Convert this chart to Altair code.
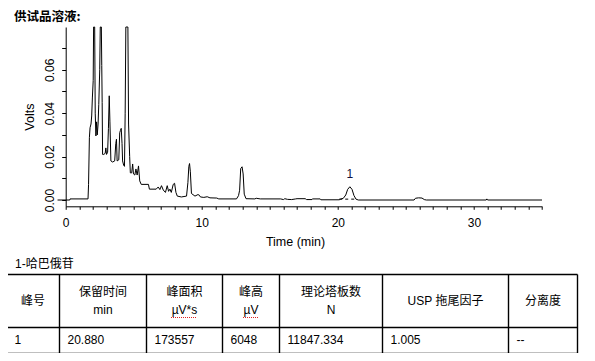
import altair as alt
import pandas as pd

# ---------------- data ----------------
time_min = [-0.6, 0.3, 0.32, 1.64, 1.68, 1.74, 1.79, 1.86, 1.91, 1.96, 2.02, 2.05, 2.1, 2.13,
            2.17, 2.22, 2.27, 2.32, 2.38, 2.43, 2.5, 2.54, 2.62, 2.65, 2.68, 2.71,
            2.8, 2.9, 2.95, 3.0, 3.08, 3.14, 3.2, 3.25, 3.32, 3.45, 3.6, 3.68, 3.73, 3.78,
            3.9, 3.97, 4.02, 4.08, 4.14, 4.18, 4.26, 4.32, 4.37, 4.42, 4.57, 4.62, 4.7, 4.75,
            4.85, 4.92, 4.98, 5.08, 5.16, 5.25, 5.35, 5.44, 5.55, 6.08, 6.15, 6.65, 6.8, 6.92,
            7.04, 7.17, 7.33, 7.46, 7.56, 7.66, 7.76, 7.9, 8.0, 8.1, 8.2, 8.5, 8.88, 8.98,
            9.05, 9.1, 9.16, 9.24, 9.5, 9.72, 9.82, 9.9, 10.15, 10.4, 10.6, 11.1, 11.25,
            12.55, 12.7, 12.78, 12.86, 12.96, 13.04, 13.12, 13.25, 13.9, 14.0, 14.3, 15.8,
            16.0, 16.1, 16.3, 16.6, 16.9, 17.0, 17.6, 17.7, 18.1, 18.15, 18.7, 18.75, 20.1,
            20.2, 20.4, 20.58, 20.72, 20.88, 21.04, 21.18, 21.33, 21.5, 25.6, 25.7, 25.93,
            26.18, 26.35, 26.5, 30.9, 30.95, 31.0, 35.0]
volts = [0.0, 0.0, 0.0005, 0.0005, 0.0072, 0.0287, 0.0333, 0.035, 0.0387, 0.047, 0.055, 0.2, 0.2, 0.08,
         0.040, 0.0295, 0.036, 0.030, 0.035, 0.044, 0.06, 0.2, 0.2, 0.062, 0.045, 0.021,
         0.021, 0.0215, 0.024, 0.021, 0.022, 0.033, 0.048, 0.036, 0.018, 0.0175, 0.018, 0.026, 0.028, 0.018,
         0.0185, 0.031, 0.032, 0.033, 0.026, 0.018, 0.016, 0.0155, 0.04, 0.2, 0.2, 0.035, 0.02, 0.0125,
         0.0125, 0.0166, 0.012, 0.0115, 0.0143, 0.0115, 0.0157, 0.0088, 0.0072, 0.0072, 0.005, 0.005, 0.006, 0.0048,
         0.0066, 0.0046, 0.0035, 0.0066, 0.004, 0.005, 0.0035, 0.0072, 0.0077, 0.0035, 0.0018, 0.0014, 0.0018, 0.008,
         0.0155, 0.0168, 0.013, 0.003, 0.0018, 0.0025, 0.0022, 0.0014, 0.0012, 0.0015, 0.001, 0.0009, 0.0005,
         0.0005, 0.002, 0.0045, 0.0145, 0.0153, 0.012, 0.0027, 0.0006, 0.0005, 0.0008, 0.0005, 0.0005,
         0.0002, 0.0006, 0.0003, 0.0002, 0.0005, 0.0006, 0.0006, 0.0002, 0.0002, 0.0005, 0.0005, 0.0001, 0.0001,
         0.0004, 0.0008, 0.0023, 0.0049, 0.0061, 0.0049, 0.0021, 0.0004, 0.0, 0.0, 0.0008, 0.001,
         0.0009, 0.0002, 0.0, 0.0, 0.0005, 0.0, 0.0]

peak_ids = ["1"]
peak_times = [20.88]
peak_heights = [0.0061]
baseline_t = [20.1, 21.4]
baseline_v = [0.0004, 0.0004]

x_ticks = list(range(0, 36))
y_ticks = [0.0, 0.01, 0.02, 0.03, 0.04, 0.05, 0.06, 0.07]

chart_title = "供试品溶液:"
table_caption = "1-哈巴俄苷"
table_headers = ["峰号", "保留时间\nmin", "峰面积\nµV*s", "峰高\nµV", "理论塔板数\nN", "USP 拖尾因子", "分离度"]
table_row = ["1", "20.880", "173557", "6048", "11847.334", "1.005", "--"]

# ---------------- layout ----------------
OX, OY = 65.7, 26.0          # page position of plot origin
W, H = 476.3, 179.3
col_edges = [6.5, 59.5, 146.5, 222.5, 279.5, 382.5, 508.5, 577.5]
row_edges = [273.5, 326.5, 352.5]
header_y = 300.0
LH = 18.6
row_y = 338.5
squiggles = [(171, 196, 316.5), (243, 259, 316.5)]
FONT = "'Liberation Sans', 'Noto Sans CJK SC'"

# ---------------- chromatogram ----------------
trace = pd.DataFrame({"t": time_min, "v": volts})
xs = alt.Scale(domain=[0, 35], nice=False, zero=False)
ys = alt.Scale(domain=[-0.0029, 0.0797], nice=False, zero=False, clamp=True)

x_axis = alt.Axis(values=x_ticks, labelExpr="datum.value % 10 === 0 ? datum.label : ''",
                  format="d", tickSize=3, labelPadding=8, labelFlush=False, labelOverlap=False,
                  labelFontSize=12, title="Time (min)", titleFontSize=12.5,
                  titleX=229.3, titleY=35, titleAlign="center", titleBaseline="middle", grid=False)
y_axis = alt.Axis(values=y_ticks,
                  labelExpr="round(datum.value*100) % 2 === 0 ? format(datum.value, '.2f') : ''",
                  tickSize=4, labelPadding=8, labelAngle=270, labelAlign="center",
                  labelBaseline="alphabetic", labelFontSize=12, labelOverlap=False,
                  title="Volts", titleFontSize=12.5, titleAngle=270, titleX=-35.7, titleY=H / 2,
                  titleAlign="center", titleBaseline="middle", grid=False)

XC = alt.X("t:Q", scale=xs, axis=x_axis)
YC = alt.Y("v:Q", scale=ys, axis=y_axis)

line = alt.Chart(trace).mark_line(color="black", strokeWidth=1, clip=False).encode(
    x=XC, y=YC, order="t:Q")
base = alt.Chart(pd.DataFrame({"t": baseline_t, "v": baseline_v})).mark_line(
    color="black", strokeWidth=1, strokeDash=[3, 3]).encode(x=XC, y=YC)
plabel = alt.Chart(pd.DataFrame({"t": peak_times, "v": peak_heights, "id": peak_ids})).mark_text(
    font=FONT, fontSize=12, color="#101040", dy=-12.5, baseline="middle").encode(
    x=XC, y=YC, text="id:N")

chrom = alt.layer(line, base, plabel)

# ---------------- table ----------------
hl = pd.DataFrame({"x": [col_edges[0] - OX] * len(row_edges), "x2": [col_edges[-1] - OX] * len(row_edges),
                   "y": [r - OY for r in row_edges]})
vl = pd.DataFrame({"x": [c - OX for c in col_edges], "y": [row_edges[0] - OY] * len(col_edges),
                   "y2": [row_edges[-1] - OY] * len(col_edges)})
hdr = pd.DataFrame({"x": [(a + b) / 2 - OX for a, b in zip(col_edges[:-1], col_edges[1:])],
                    "y": [header_y - OY - (h.count("\n")) * LH / 2 for h in table_headers],
                    "text": table_headers})
row = pd.DataFrame({"x": [a + 8 - OX for a in col_edges[:-1]], "y": [row_y - OY] * len(table_row),
                    "text": table_row})
sq = pd.DataFrame({"x": [s[0] - OX for s in squiggles], "x2": [s[1] - OX for s in squiggles],
                   "y": [s[2] - OY for s in squiggles]})
caps = pd.DataFrame({"x": [15 - OX, 14 - OX], "y": [262.7 - OY, 16 - OY],
                     "text": [table_caption, chart_title]})

X = lambda f: alt.X(f, scale=None, axis=None)
Y = lambda f: alt.Y(f, scale=None, axis=None)

hrules = alt.Chart(hl).mark_rule(color="black", strokeWidth=1.4).encode(x=X("x:Q"), x2="x2:Q", y=Y("y:Q"))
vrules = alt.Chart(vl).mark_rule(color="black", strokeWidth=1.4).encode(x=X("x:Q"), y=Y("y:Q"), y2="y2:Q")
sqr = alt.Chart(sq).mark_rule(color="#e02020", strokeWidth=1, strokeDash=[1, 1]).encode(
    x=X("x:Q"), x2="x2:Q", y=Y("y:Q"))
htext = alt.Chart(hdr).mark_text(font=FONT, fontSize=12, lineBreak="\n", lineHeight=LH,
                                 align="center", baseline="middle", color="black").encode(
    x=X("x:Q"), y=Y("y:Q"), text="text:N")
rtext = alt.Chart(row).mark_text(font=FONT, fontSize=12, align="left", baseline="middle",
                                 color="black").encode(x=X("x:Q"), y=Y("y:Q"), text="text:N")
cap1 = alt.Chart(caps.iloc[[0]]).mark_text(font=FONT, fontSize=12, align="left", baseline="middle",
                                            color="black").encode(x=X("x:Q"), y=Y("y:Q"), text="text:N")
cap2 = alt.Chart(caps.iloc[[1]]).mark_text(font="'Noto Sans CJK SC'", fontSize=12.5, fontWeight="bold",
                                            align="left", baseline="middle", color="black").encode(
    x=X("x:Q"), y=Y("y:Q"), text="text:N")

table = alt.layer(hrules, vrules, sqr, htext, rtext, cap1, cap2)

chart = alt.layer(chrom, table).resolve_scale(x="independent", y="independent").properties(
    width=W, height=H,
    padding={"left": 57.7, "top": 19, "right": 45, "bottom": 146.7},
    autosize=alt.AutoSizeParams(type="none"),
).configure_view(strokeWidth=0).configure_axis(
    labelFont="Liberation Sans", titleFont="Liberation Sans", labelColor="black", titleColor="black",
    domainColor="black", tickColor="black", titleFontWeight="normal", domainWidth=1, tickWidth=1)

chart.save("out.html", embed_options={"renderer": "svg", "actions": False})
